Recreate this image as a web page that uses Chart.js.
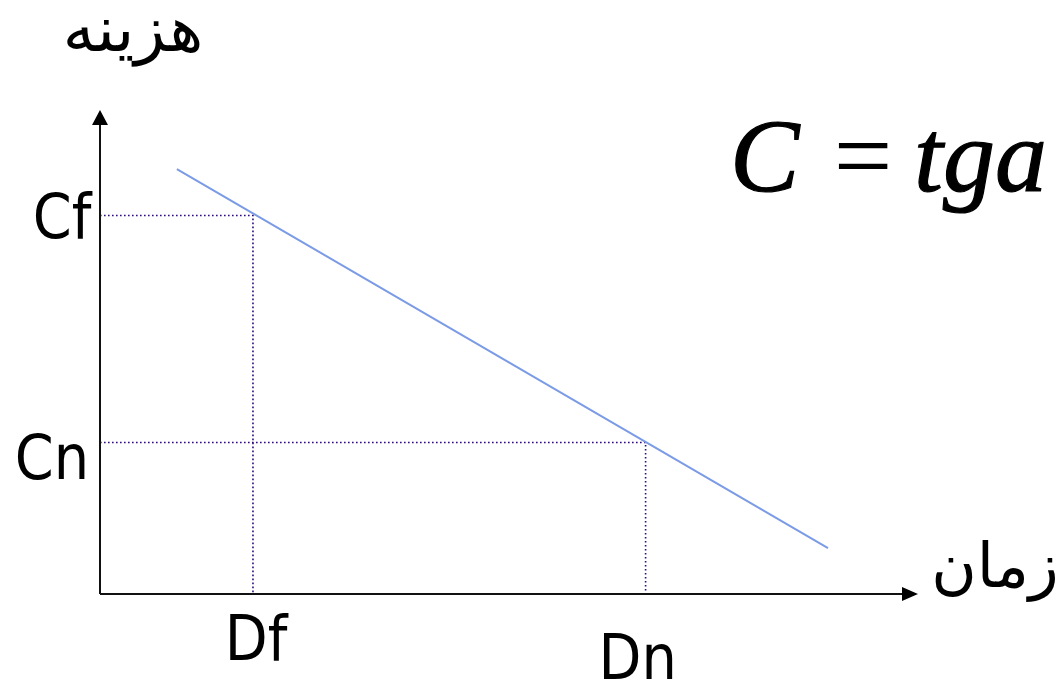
<!DOCTYPE html>
<html>
<head>
<meta charset="utf-8">
<script src="https://cdn.jsdelivr.net/npm/chart.js@4"></script>
<style>
  html, body { margin: 0; padding: 0; background: #fff; }
  #wrap { width: 1057px; height: 687px; }
</style>
</head>
<body>
<div id="wrap"><canvas id="costChart" width="1057" height="687"></canvas></div>
<script>
// cost vs. duration (values in axis units 0..100)
const lineX = [9.4, 89.0];
const lineY = [87.8, 9.5];

const durationTicks = [18.7, 66.7];
const durationLabels = ['Df', 'Dn'];
const costTicks = [78.2, 31.3];
const costLabels = ['Cf', 'Cn'];

const xTitle = 'زمان';
const yTitle = 'هزینه';
const formulaParts = ['C', '=', 'tga'];

const guideColor = '#2e0a7a';
const lineColor = '#7b9be6';

// dotted guide from y axis -> point -> x axis
function guide(i) {
    return [
        { x: 0, y: costTicks[i] },
        { x: durationTicks[i], y: costTicks[i] },
        { x: durationTicks[i], y: 0 }
    ];
}

const axesPlugin = {
    id: 'axesAndLabels',
    afterDraw(chart) {
        const ctx = chart.ctx;
        const xs = chart.scales.x;
        const ys = chart.scales.y;
        const x0 = xs.getPixelForValue(0);
        const y0 = ys.getPixelForValue(0);
        const xEnd = xs.getPixelForValue(100);
        const yEnd = ys.getPixelForValue(100);

        ctx.save();
        // axes
        ctx.strokeStyle = '#111';
        ctx.fillStyle = '#000';
        ctx.lineWidth = 2;
        ctx.beginPath();
        ctx.moveTo(x0, y0);
        ctx.lineTo(x0, yEnd + 12);
        ctx.moveTo(x0, y0);
        ctx.lineTo(xEnd - 14, y0);
        ctx.stroke();
        // arrow heads
        ctx.beginPath();
        ctx.moveTo(x0, yEnd);
        ctx.lineTo(x0 - 8, yEnd + 15);
        ctx.lineTo(x0 + 8, yEnd + 15);
        ctx.closePath();
        ctx.fill();
        ctx.beginPath();
        ctx.moveTo(xEnd, y0);
        ctx.lineTo(xEnd - 16, y0 - 7);
        ctx.lineTo(xEnd - 16, y0 + 7);
        ctx.closePath();
        ctx.fill();

        // tick labels
        ctx.font = '62px "DejaVu Sans Condensed"';
        ctx.textAlign = 'center';
        ctx.textBaseline = 'middle';
        const yOff = [6, 20];
        const yCol = [62, 52];
        costLabels.forEach((t, i) => {
            ctx.fillText(t, yCol[i], ys.getPixelForValue(costTicks[i]) + yOff[i]);
        });
        const xOff = [3, -8];
        const xRow = [644, 663];
        durationLabels.forEach((t, i) => {
            ctx.fillText(t, xs.getPixelForValue(durationTicks[i]) + xOff[i], xRow[i]);
        });

        // axis titles
        ctx.font = '64px "DejaVu Sans"';
        ctx.fillText(yTitle, 133, 34);
        ctx.font = '62px "DejaVu Sans"';
        ctx.fillText(xTitle, 995, 571);

        // formula
        ctx.textBaseline = 'alphabetic';
        ctx.lineWidth = 1.2;
        ctx.strokeStyle = '#000';
        ctx.font = 'italic 104px "Liberation Serif"';
        ctx.textAlign = 'left';
        ctx.fillText(formulaParts[0], 730, 191);
        ctx.strokeText(formulaParts[0], 730, 191);
        ctx.textAlign = 'right';
        ctx.fillText(formulaParts[2], 1047, 191);
        ctx.strokeText(formulaParts[2], 1047, 191);
        ctx.font = '104px "Liberation Serif"';
        ctx.textAlign = 'center';
        ctx.fillText(formulaParts[1], 863, 191);
        ctx.restore();
    }
};

new Chart(document.getElementById('costChart'), {
    type: 'scatter',
    data: {
        datasets: [
            {
                data: lineX.map((x, i) => ({ x: x, y: lineY[i] })),
                showLine: true,
                borderColor: lineColor,
                borderWidth: 2,
                pointRadius: 0
            },
            {
                data: guide(0),
                showLine: true,
                borderColor: guideColor,
                borderWidth: 1.6,
                borderDash: [1.6, 2.4],
                pointRadius: 0
            },
            {
                data: guide(1),
                showLine: true,
                borderColor: guideColor,
                borderWidth: 1.6,
                borderDash: [1.6, 2.4],
                pointRadius: 0
            }
        ]
    },
    options: {
        responsive: false,
        animation: false,
        layout: { padding: { left: 100, right: 139, top: 110, bottom: 93 } },
        scales: {
            x: { type: 'linear', min: 0, max: 100, display: false },
            y: { type: 'linear', min: 0, max: 100, display: false }
        },
        plugins: {
            legend: { display: false },
            tooltip: { enabled: false }
        }
    },
    plugins: [axesPlugin]
});
</script>
</body>
</html>
